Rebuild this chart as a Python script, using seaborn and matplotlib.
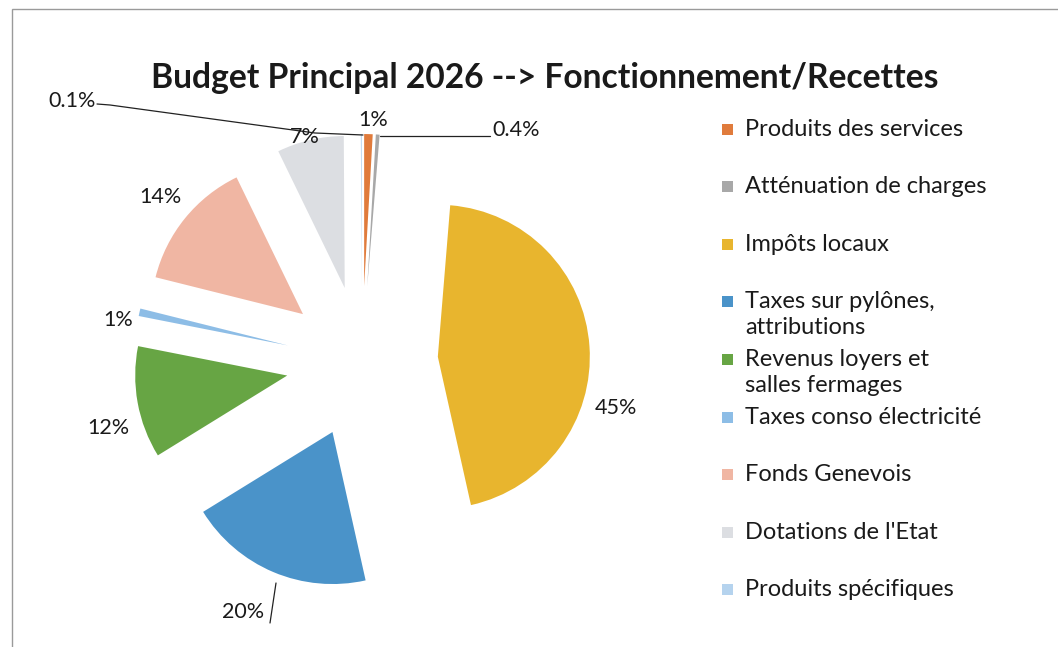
import matplotlib
matplotlib.use("Agg")
import matplotlib.pyplot as plt
import seaborn as sns
from matplotlib.patches import Rectangle

# Budget 2026 - operating revenue shares
categories = [
    "Produits des services",
    "Atténuation de charges",
    "Impôts locaux",
    "Taxes sur pylônes,\nattributions",
    "Revenus loyers et\nsalles fermages",
    "Taxes conso électricité",
    "Fonds Genevois",
    "Dotations de l'Etat",
    "Produits spécifiques",
]
shares = [0.9, 0.4, 45.2, 19.7, 11.9, 0.8, 13.9, 7.1, 0.1]
pct_labels = ["1%", "0.4%", "45%", "20%", "12%", "1%", "14%", "7%", "0.1%"]
colors = ["#E07B3C", "#A8A8A8", "#E8B52E", "#4A93C9", "#67A544",
          "#8DBDE6", "#F0B6A3", "#DCDEE2", "#B5D3EE"]

sns.set_theme(style="white")
plt.rcParams["font.family"] = ["Lato", "DejaVu Sans"]

W, H = 1058, 647
CX, CY, R = 362, 362, 152  # pie centre and radius in pixels


def px(x, y):
    # pixel position (from top-left) -> data coordinates of the pie axes
    return (x - CX) / R, (CY - y) / R


fig = plt.figure(figsize=(W / 100, H / 100), dpi=100)
ax = fig.add_axes([0, 0, 1, 1])

ax.pie(shares, colors=colors, explode=[0.5] * len(shares), startangle=90,
       counterclock=False, radius=1, wedgeprops=dict(linewidth=0))
ax.set_xlim(-CX / R, (W - CX) / R)
ax.set_ylim((CY - H) / R, CY / R)
ax.set_aspect("auto")
ax.axis("off")

# data labels, placed like Excel's outside-end / best-fit labels
label_pos = [(373, 120, "center"), (492, 130, "left"), (616, 408, "center"),
             (243, 612, "center"), (108, 428, "center"), (118, 320, "center"),
             (160, 197, "center"), (305, 137, "center"), (96, 101, "right")]
for txt, (x, y, ha) in zip(pct_labels, label_pos):
    ax.text(*px(x, y), txt, ha=ha, va="center", fontsize=15.5, color="#1a1a1a")

# leader lines
leaders = [
    [(380, 136), (490, 136)],
    [(276, 583), (270, 623)],
    [(97, 104), (110, 105), (315, 133), (363, 135)],
]
for pts in leaders:
    xs, ys = zip(*[px(x, y) for x, y in pts])
    ax.plot(xs, ys, color="#222222", lw=0.9)

# title
fig.text(545 / W, 1 - 78 / H, "Budget Principal 2026 --> Fonctionnement/Recettes",
         ha="center", va="center", fontsize=24.2, fontweight="bold", color="#1a1a1a")

# legend drawn by hand so wrapped entries keep the even spacing
for i, (name, col) in enumerate(zip(categories, colors)):
    y = 129 + i * 57.6
    fig.add_artist(Rectangle((722 / W, 1 - (y + 5.5) / H), 11 / W, 11 / H,
                             transform=fig.transFigure, color=col, lw=0))
    for j, line in enumerate(name.split("\n")):
        fig.text(745 / W, 1 - (y + j * 26) / H, line, ha="left", va="center",
                 fontsize=17, color="#1a1a1a")

# chart area border (partly outside the scan)
fig.add_artist(Rectangle((12 / W, -0.1), 1.2, (H - 9) / H + 0.1,
                         transform=fig.transFigure, fill=False, ec="#9a9a9a", lw=1))

fig.savefig("out.png", dpi=100)
